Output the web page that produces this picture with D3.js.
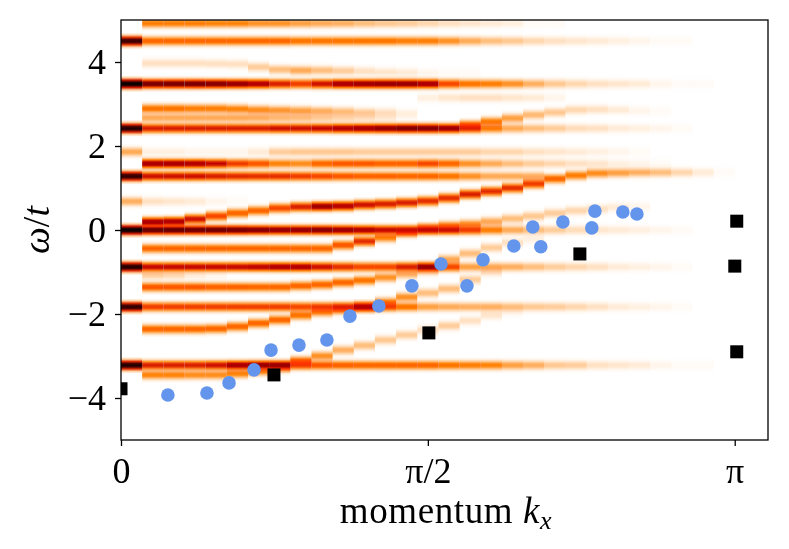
<!DOCTYPE html>
<html>
<head>
<meta charset="utf-8">
<script src="https://cdn.jsdelivr.net/npm/d3@7"></script>
<style>
  body { margin: 0; background: #fff; }
  .axis text { font-family: "Liberation Serif", serif; font-size: 36px; fill: #000; }
  .axis line { stroke: #000; stroke-width: 1.3; }
</style>
</head>
<body>
<div id="chart"></div>
<script>
'use strict';

// ---- data ----
// heat map: 29 momentum columns from 0 to pi, bands given as (start column, omega per column, weight per column)
const nCols = 29;
const bandStart = [1, 0, 1, 0, 1, 1, 0, 16, 0, 1, 0, 0, 1, 0, 1, 0, 15, 1, 1, 1, 0, 1, 0, 14];
const bandOmega = [
  [4.92],
  [4.50],
  [3.97, 3.97, 3.97, 3.96, 3.95, 3.88, 3.82, 3.8, 3.8, 3.79, 3.78, 3.76, 3.75, 3.74, 3.73, 3.72],
  [3.48],
  [2.89, 2.89, 2.89, 2.89, 2.88, 2.86, 2.85, 2.84, 2.83, 2.82, 2.8, 2.8, 2.78],
  [2.67],
  [2.42],
  [2.5, 2.58, 2.66, 2.74, 2.8, 2.86, 2.87, 2.86, 2.84, 2.83],
  [1.86],
  [1.58],
  [1.28],
  [0.68],
  [0.19, 0.2, 0.26, 0.33, 0.4, 0.46, 0.52, 0.55, 0.56, 0.57, 0.6, 0.62, 0.65, 0.69, 0.76, 0.85, 0.92, 1.0, 1.1, 1.22, 1.3, 1.35, 1.36, 1.37],
  [0.0],
  [-0.44, -0.44, -0.44, -0.44, -0.44, -0.44, -0.44, -0.44, -0.44, -0.36, -0.27, -0.18, -0.06, 0.05, 0.1, 0.14, 0.2, 0.27, 0.33, 0.4, 0.46, 0.5, 0.54, 0.56],
  [-0.88],
  [-0.7, -0.56, -0.42, -0.3, -0.22],
  [-1.07],
  [-1.36, -1.36, -1.36, -1.36, -1.36, -1.36, -1.36, -1.33, -1.3, -1.25, -1.2, -1.13, -1.05, -0.98],
  [-2.36, -2.36, -2.36, -2.35, -2.3, -2.22, -2.14, -2.03, -1.95, -1.9, -1.83, -1.72, -1.6, -1.5, -1.4, -1.18, -1.0],
  [-1.83],
  [-3.45, -3.45, -3.45, -3.45, -3.42, -3.36, -3.28, -3.12, -3.0, -2.86, -2.75, -2.62, -2.5, -2.38, -2.28, -2.16, -2.03, -1.95],
  [-3.22],
  [3.15]
];
const bandWeight = [
  [0.4, 0.4, 0.4, 0.38, 0.38, 0.35, 0.35, 0.32, 0.3, 0.28, 0.25, 0.22, 0.2, 0.18, 0.15, 0.12, 0.1, 0.08, 0.05, 0.03],
  [0.9, 0.45, 0.45, 0.45, 0.45, 0.45, 0.45, 0.45, 0.42, 0.42, 0.42, 0.42, 0.42, 0.4, 0.4, 0.35, 0.3, 0.25, 0.22, 0.18, 0.15, 0.12, 0.1, 0.08, 0.06, 0.05, 0.04, 0.02],
  [0.15, 0.15, 0.15, 0.15, 0.15, 0.2, 0.25, 0.3, 0.25, 0.2, 0.15, 0.12, 0.1, 0.07, 0.05, 0.03],
  [1.0, 0.78, 0.78, 0.78, 0.76, 0.72, 0.66, 0.58, 0.52, 0.6, 0.68, 0.7, 0.72, 0.72, 0.68, 0.5, 0.42, 0.4, 0.35, 0.28, 0.22, 0.18, 0.14, 0.12, 0.1, 0.07, 0.05, 0.03],
  [0.42, 0.42, 0.4, 0.4, 0.38, 0.36, 0.34, 0.32, 0.28, 0.25, 0.2, 0.14, 0.08],
  [0.3, 0.3, 0.3, 0.3, 0.3, 0.28, 0.26, 0.25, 0.2, 0.18, 0.15, 0.1, 0.05],
  [0.95, 0.58, 0.58, 0.58, 0.58, 0.58, 0.58, 0.6, 0.6, 0.62, 0.65, 0.68, 0.72, 0.76, 0.75, 0.7, 0.55, 0.4, 0.3, 0.25, 0.2, 0.16, 0.14, 0.1, 0.08, 0.06, 0.04, 0.02],
  [0.45, 0.4, 0.32, 0.26, 0.22, 0.18, 0.15, 0.1, 0.07, 0.04],
  [0.3, 0.08, 0.08, 0.06, 0.06, 0.06, 0.1, 0.2, 0.22, 0.22, 0.22, 0.2, 0.2, 0.2, 0.2, 0.2, 0.2, 0.18, 0.18, 0.15, 0.12, 0.1, 0.08, 0.06, 0.04],
  [0.68, 0.68, 0.66, 0.62, 0.52, 0.48, 0.38, 0.36, 0.45, 0.48, 0.48, 0.46, 0.46, 0.5, 0.45, 0.35, 0.3, 0.25, 0.2, 0.18, 0.14, 0.12, 0.09, 0.06, 0.04],
  [0.92, 0.6, 0.6, 0.6, 0.58, 0.56, 0.55, 0.55, 0.52, 0.5, 0.48, 0.46, 0.46, 0.45, 0.45, 0.42, 0.35, 0.3, 0.3, 0.28],
  [0.28, 0.15, 0.12, 0.1, 0.06, 0.04],
  [0.68, 0.66, 0.6, 0.5, 0.45, 0.45, 0.5, 0.58, 0.7, 0.65, 0.6, 0.58, 0.58, 0.55, 0.55, 0.58, 0.55, 0.55, 0.52, 0.45, 0.4, 0.36, 0.32, 0.28, 0.24, 0.18, 0.1, 0.05],
  [1.0, 0.82, 0.82, 0.8, 0.8, 0.78, 0.75, 0.72, 0.72, 0.74, 0.7, 0.66, 0.62, 0.6, 0.62, 0.6, 0.52, 0.4, 0.3, 0.25, 0.2, 0.16, 0.13, 0.1, 0.08, 0.06, 0.04, 0.02],
  [0.45, 0.45, 0.45, 0.45, 0.45, 0.45, 0.45, 0.45, 0.45, 0.48, 0.55, 0.4, 0.45, 0.4, 0.4, 0.35, 0.3, 0.25, 0.22, 0.2, 0.18, 0.14, 0.1, 0.06],
  [0.95, 0.62, 0.62, 0.62, 0.62, 0.62, 0.64, 0.66, 0.66, 0.6, 0.55, 0.5, 0.5, 0.58, 0.72, 0.5, 0.32, 0.3, 0.28, 0.25, 0.2, 0.18, 0.14, 0.1, 0.08, 0.06, 0.04, 0.02],
  [0.3, 0.25, 0.2, 0.14, 0.08],
  [0.2, 0.18, 0.1, 0.06],
  [0.48, 0.48, 0.48, 0.46, 0.46, 0.45, 0.45, 0.45, 0.45, 0.45, 0.42, 0.35, 0.28, 0.2],
  [0.45, 0.45, 0.45, 0.45, 0.45, 0.45, 0.45, 0.42, 0.4, 0.4, 0.45, 0.4, 0.35, 0.25, 0.25, 0.2, 0.15],
  [0.92, 0.52, 0.52, 0.52, 0.52, 0.52, 0.52, 0.52, 0.5, 0.52, 0.56, 0.66, 0.5, 0.42, 0.32, 0.3, 0.28, 0.28, 0.25, 0.22, 0.2, 0.18, 0.14, 0.1, 0.08, 0.06, 0.04, 0.02],
  [0.38, 0.38, 0.36, 0.36, 0.38, 0.4, 0.4, 0.45, 0.35, 0.28, 0.25, 0.22, 0.2, 0.15, 0.2, 0.15, 0.12, 0.06],
  [0.95, 0.58, 0.58, 0.58, 0.6, 0.68, 0.72, 0.72, 0.5, 0.48, 0.46, 0.45, 0.45, 0.45, 0.45, 0.42, 0.4, 0.38, 0.32, 0.28, 0.22, 0.2, 0.15, 0.12, 0.1, 0.07, 0.05, 0.03],
  [0.08, 0.12, 0.15, 0.15, 0.12, 0.1, 0.06]
];

// blue circles
const circleK = [0.24, 0.44, 0.553, 0.681, 0.768, 0.911, 1.054, 1.172, 1.32, 1.489, 1.638, 1.771, 1.853, 2.011, 2.108, 2.149, 2.262, 2.41, 2.426, 2.569, 2.641];
const circleW = [-3.93, -3.88, -3.64, -3.33, -2.86, -2.74, -2.62, -2.05, -1.81, -1.33, -0.81, -1.33, -0.71, -0.38, 0.07, -0.4, 0.19, 0.05, 0.45, 0.43, 0.38];
// black squares
const squareK = [0, 0.783, 1.576, 2.349, 3.142, 3.152, 3.152];
const squareW = [-3.78, -3.45, -2.45, -0.57, -0.86, -2.9, 0.21];

const xTickVals = [0, Math.PI / 2, Math.PI];
const xTickLabels = ['0', 'π/2', 'π'];
const yTickVals = [-4, -2, 0, 2, 4];
const yTickLabels = ['−4', '−2', '0', '2', '4'];

// ---- layout ----
const W = 789, H = 549;
const plotL = 121, plotR = 768, plotT = 20, plotB = 440;
const kMax = 3.312;

const svg = d3.select('#chart').append('svg')
  .attr('width', W).attr('height', H)
  .style('font-family', '"Liberation Serif", serif');

svg.append('rect').attr('width', W).attr('height', H).attr('fill', '#fff');

const x = d3.scaleLinear().domain([0, kMax]).range([plotL, plotR]);
const y = d3.scaleLinear().domain([-5, 5]).range([plotB, plotT]);

// gist_heat_r colour map with a power norm
const norm = d3.scalePow().exponent(1.45).domain([0, 1]).range([0, 1]).clamp(true);
function gistHeatR(v) {
  const t = 1 - v;
  const r = Math.min(1, 1.5 * t);
  const g = Math.max(0, Math.min(1, 2 * t - 1));
  const b = Math.max(0, Math.min(1, 4 * t - 3));
  return d3.rgb(r * 255, g * 255, b * 255).formatHex();
}

const defs = svg.append('defs');
defs.append('clipPath').attr('id', 'plotclip')
  .append('rect').attr('x', plotL).attr('y', plotT).attr('width', plotR - plotL).attr('height', plotB - plotT);

// vertical band profile (fraction of peak value at each gradient offset)
const profile = [[0, 0], [0.14, 0.1], [0.28, 0.45], [0.4, 0.88], [0.5, 1], [0.6, 0.88], [0.72, 0.45], [0.86, 0.1], [1, 0]];
const usedGrads = new Set();
function gradFor(v) {
  const q = Math.round(norm(v) * 100);
  const id = 'g' + q;
  if (!usedGrads.has(id)) {
    usedGrads.add(id);
    const g = defs.append('linearGradient').attr('id', id)
      .attr('x1', 0).attr('y1', 0).attr('x2', 0).attr('y2', 1);
    profile.forEach(([off, f]) => {
      g.append('stop').attr('offset', off).attr('stop-color', gistHeatR(f * q / 100));
    });
  }
  return `url(#${id})`;
}

// flatten the bands into cells
const cells = [];
bandWeight.forEach((ws, b) => {
  ws.forEach((w, j) => {
    const om = bandOmega[b];
    cells.push({ col: bandStart[b] + j, omega: om[Math.min(j, om.length - 1)], w: w });
  });
});

const halfBand = 0.2;
const heat = svg.append('g').attr('clip-path', 'url(#plotclip)')
  .style('isolation', 'isolate');
heat.selectAll('rect.cell').data(cells).enter().append('rect')
  .attr('class', 'cell')
  .attr('x', d => x(d.col * Math.PI / nCols))
  .attr('width', d => x((d.col + 1) * Math.PI / nCols) - x(d.col * Math.PI / nCols))
  .attr('y', d => y(d.omega + halfBand))
  .attr('height', d => y(d.omega - halfBand) - y(d.omega + halfBand))
  .attr('fill', d => gradFor(d.w))
  .style('mix-blend-mode', 'multiply');

// markers
const marks = svg.append('g').attr('clip-path', 'url(#plotclip)');
marks.selectAll('circle').data(circleK).enter().append('circle')
  .attr('cx', d => x(d))
  .attr('cy', (d, i) => y(circleW[i]))
  .attr('r', 6.8)
  .attr('fill', '#6495ed');

const sq = 13;
marks.selectAll('rect.sq').data(squareK).enter().append('rect')
  .attr('class', 'sq')
  .attr('x', d => x(d) - sq / 2)
  .attr('y', (d, i) => y(squareW[i]) - sq / 2)
  .attr('width', sq).attr('height', sq)
  .attr('fill', '#000');

// axes
const xAxis = d3.axisBottom(x).tickValues(xTickVals)
  .tickFormat((d, i) => xTickLabels[i]).tickSize(6).tickPadding(11);
svg.append('g').attr('class', 'axis')
  .attr('transform', `translate(0,${plotB})`)
  .call(xAxis)
  .call(g => g.select('.domain').remove());

const yAxis = d3.axisLeft(y).tickValues(yTickVals)
  .tickFormat((d, i) => yTickLabels[i]).tickSize(6).tickPadding(9);
svg.append('g').attr('class', 'axis')
  .attr('transform', `translate(${plotL},0)`)
  .call(yAxis)
  .call(g => g.select('.domain').remove());

// frame
svg.append('rect')
  .attr('x', plotL).attr('y', plotT)
  .attr('width', plotR - plotL).attr('height', plotB - plotT)
  .attr('fill', 'none').attr('stroke', '#000').attr('stroke-width', 1.3);

// axis titles
const xl = svg.append('text')
  .attr('x', 446).attr('y', 523)
  .attr('text-anchor', 'middle')
  .style('font-size', '37px')
  .style('letter-spacing', '0.6px');
xl.append('tspan').text('momentum ');
xl.append('tspan').style('font-style', 'italic').text('k');
xl.append('tspan').style('font-style', 'italic').style('font-size', '26px').attr('dy', 6).text('x');

const yl = svg.append('text')
  .attr('transform', `translate(49,${y(0)}) rotate(-90)`)
  .attr('text-anchor', 'middle')
  .style('font-size', '38px');
yl.append('tspan').style('font-style', 'italic').text('ω');
yl.append('tspan').text('/');
yl.append('tspan').style('font-style', 'italic').text('t');
</script>
</body>
</html>
